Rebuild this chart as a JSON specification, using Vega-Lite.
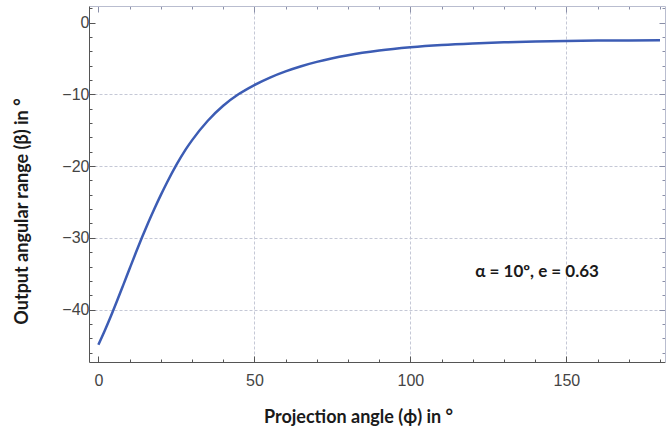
{
  "$schema": "https://vega.github.io/schema/vega-lite/v6.json",
  "width": 576,
  "height": 356,
  "autosize": "none",
  "padding": {"left": 89, "top": 6, "right": 1, "bottom": 74},
  "background": "white",
  "config": {
    "view": {"stroke": null},
    "axis": {"domainColor": "#555555", "tickColor": "#555555", "labelFont": "Liberation Sans", "labelFontSize": 16, "labelColor": "#444444", "titleFont": "Lato", "titleFontWeight": "bold", "titleFontSize": 18, "titleColor": "#1a1a1a", "gridColor": "#c5c8d6", "gridDash": [3, 2], "gridWidth": 1}
  },
  "datasets": {
    "curve": [
      {"phi": 0, "beta": -44.9}, {"phi": 2, "beta": -42.98}, {"phi": 4, "beta": -40.93}, {"phi": 6, "beta": -38.77}, {"phi": 8, "beta": -36.55}, {"phi": 10, "beta": -34.31}, {"phi": 12, "beta": -32.09}, {"phi": 14, "beta": -29.93}, {"phi": 16, "beta": -27.87}, {"phi": 18, "beta": -25.91}, {"phi": 20, "beta": -24.05}, {"phi": 22, "beta": -22.29}, {"phi": 25, "beta": -19.84}, {"phi": 28, "beta": -17.68}, {"phi": 30, "beta": -16.42}, {"phi": 35, "beta": -13.72}, {"phi": 40, "beta": -11.6}, {"phi": 45, "beta": -9.97}, {"phi": 50, "beta": -8.71}, {"phi": 55, "beta": -7.67}, {"phi": 60, "beta": -6.81}, {"phi": 65, "beta": -6.09}, {"phi": 70, "beta": -5.49}, {"phi": 80, "beta": -4.56}, {"phi": 90, "beta": -3.91}, {"phi": 100, "beta": -3.46}, {"phi": 110, "beta": -3.14}, {"phi": 120, "beta": -2.92}, {"phi": 130, "beta": -2.76}, {"phi": 140, "beta": -2.655}, {"phi": 150, "beta": -2.58}, {"phi": 160, "beta": -2.52}, {"phi": 170, "beta": -2.49}, {"phi": 180, "beta": -2.46}
    ],
    "note": [{"phi": 140.6, "beta": -34.7, "label": "α = 10º, e = 0.63"}]
  },
  "layer": [
    {
      "data": {"name": "curve"},
      "mark": {"type": "line", "color": "#3c5cb4", "strokeWidth": 2.5, "interpolate": "monotone", "clip": true},
      "encoding": {
        "x": {"field": "phi", "type": "quantitative", "scale": {"domain": [-3, 181.6], "nice": false, "zero": false},
          "axis": {"orient": "bottom", "title": "Projection angle (ϕ) in °", "values": [0,10,20,30,40,50,60,70,80,90,100,110,120,130,140,150,160,170,180],
            "labelExpr": "datum.value % 50 === 0 ? datum.label : ''",
            "tickSize": {"condition": {"test": "datum.value % 50 === 0", "value": -6}, "value": -3},
            "labelPadding": 16, "labelFlush": false,
            "grid": true, "gridOpacity": {"condition": {"test": "datum.value % 50 === 0 && datum.value > 0", "value": 1}, "value": 0},
            "titleX": 269, "titleY": 55, "titleAnchor": null, "titleAlign": "center", "titleBaseline": "middle"}},
        "y": {"field": "beta", "type": "quantitative", "scale": {"domain": [-47.3, 2.3], "nice": false, "zero": false},
          "axis": {"orient": "left", "title": "Output angular range (β) in °", "values": [-46,-44,-42,-40,-38,-36,-34,-32,-30,-28,-26,-24,-22,-20,-18,-16,-14,-12,-10,-8,-6,-4,-2,0,2],
            "labelExpr": "datum.value % 10 === 0 ? datum.label : ''",
            "tickSize": {"condition": {"test": "datum.value % 10 === 0", "value": -6}, "value": -3},
            "labelPadding": 6,
            "grid": true, "gridOpacity": {"condition": {"test": "datum.value % 10 === 0 && datum.value < 0", "value": 1}, "value": 0},
            "titleX": -67, "titleY": 205, "titleAngle": -90, "titleAlign": "center", "titleBaseline": "middle"}}
      }
    },
    {
      "data": {"name": "note"},
      "mark": {"type": "text", "font": "Lato", "fontWeight": "bold", "fontSize": 17, "color": "#1a1a1a", "align": "center", "baseline": "middle"},
      "encoding": {
        "x": {"field": "phi", "type": "quantitative", "scale": {"domain": [-3, 181.6], "nice": false, "zero": false},
          "axis": {"orient": "top", "title": null, "labels": false, "domainColor": "#b9bdcf", "tickColor": "#8a8fa8", "values": [0,10,20,30,40,50,60,70,80,90,100,110,120,130,140,150,160,170,180],
            "tickSize": {"condition": {"test": "datum.value % 50 === 0", "value": -6}, "value": -3}, "grid": false}},
        "y": {"field": "beta", "type": "quantitative", "scale": {"domain": [-47.3, 2.3], "nice": false, "zero": false},
          "axis": {"orient": "right", "title": null, "labels": false, "domainColor": "#b9bdcf", "tickColor": "#8a8fa8", "values": [-46,-44,-42,-40,-38,-36,-34,-32,-30,-28,-26,-24,-22,-20,-18,-16,-14,-12,-10,-8,-6,-4,-2,0,2],
            "tickSize": {"condition": {"test": "datum.value % 10 === 0", "value": -6}, "value": -3}, "grid": false}},
        "text": {"field": "label"}
      }
    }
  ],
  "resolve": {"axis": {"x": "independent", "y": "independent"}}
}
